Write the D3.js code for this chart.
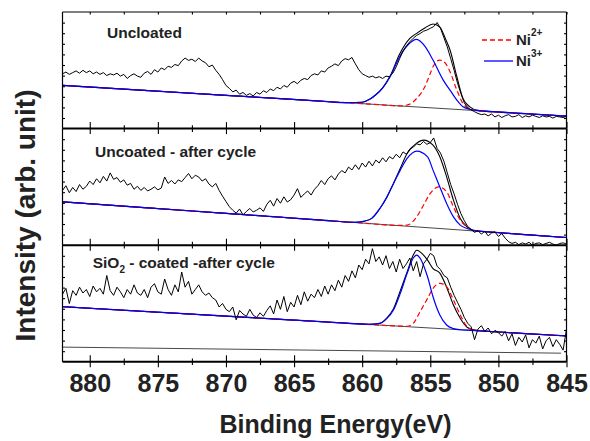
<!DOCTYPE html>
<html>
<head>
<meta charset="utf-8">
<script src="https://cdn.jsdelivr.net/npm/d3@7"></script>
<style>
  body { margin: 0; background: #fff; }
  svg text { font-family: "Liberation Sans", Arial, sans-serif; font-weight: bold; fill: #222; }
</style>
</head>
<body>
<div id="chart"></div>
<script>
// Ni 2p XPS spectra, raw counts sampled every 0.25 eV from 882 eV down to 845 eV
const energyStart = 882;
const energyStep = 0.25;

const rawUncoated = [
  47, 48.5, 46.5, 48, 49.5, 47.5, 50, 48, 49.5, 47,
  48.5, 46.5, 48, 45.5, 47, 46, 47.5, 45, 46.5, 43,
  45.5, 47, 45, 44, 47.5, 49, 46.5, 50.5, 48.5, 52,
  50.5, 53.5, 52.5, 55, 54, 58, 60.5, 58.5, 59.5, 57.5,
  60.5, 58, 56.5, 53, 54.5, 50, 46.5, 42, 37, 34.5,
  31.5, 33, 29.5, 31, 28.5, 30, 28, 31, 29.5, 32.5,
  31, 34, 32.5, 35.5, 34, 37, 35.5, 39, 40.5, 38.5,
  41.5, 43, 42, 45.5, 47, 46, 49.5, 48.5, 52, 53.5,
  55.5, 54, 58, 60, 59, 61, 55.5, 50.5, 47, 45.5,
  44, 45, 43.5, 44.5, 43, 45, 44.5, 47.5, 53, 60,
  66.5, 71, 74.5, 77.5, 80, 81.5, 83.5, 84.5, 86, 87.5,
  91, 86, 78, 70, 60, 50, 39, 30, 22, 18,
  16, 14.5, 13, 12, 12.5, 11, 12.5, 10, 11.5, 9.5,
  11, 12, 10, 10.5, 12, 9.5, 11, 10, 11.5, 10.5,
  9.5, 11, 10, 10.5, 9, 10.5, 10, 9.5, 10.5
];

const rawUncoatedCycled = [
  47, 51, 45, 49.5, 46, 52, 48, 50.5, 55, 52,
  57, 53.5, 59, 55, 62, 56.5, 58, 54, 56, 51.5,
  53, 48, 50.5, 47, 49.5, 46.5, 48, 50, 47.5, 49,
  58.5, 53, 55.5, 52.5, 56, 54.5, 58, 61.5, 57, 60,
  58.5, 55, 57, 52.5, 50, 53, 47, 42, 37.5, 33,
  30, 27.5, 31, 26, 29, 31.5, 28.5, 30, 32, 29,
  35, 38.5, 33.5, 40, 36, 41.5, 37, 39, 43, 48.5,
  41, 44, 46.5, 43, 48, 51, 55.5, 52, 57, 59.5,
  56, 61, 64, 62, 67, 64.5, 69, 65, 70.5, 67,
  72, 68, 73, 70.5, 75, 71.5, 76, 74, 78, 75,
  80, 78, 82.5, 84, 87, 86, 89, 86.5, 88, 92,
  83, 79, 72, 62, 52, 44, 35, 27, 21, 16,
  13.5, 11, 12.5, 9.5, 12, 8, 10.5, 11.5, 7.5, 10,
  6, 3, 1.5, 2.5, 0.5, 2, 1, 2.5, 0, 1.5,
  2, 0.5, 1.5, 2.5, 1, 0, 1.5, 2, 1
];

const rawSiO2Cycled = [
  58, 63, 50, 61, 57, 64, 59, 62, 56, 65, 60, 63,
  58, 74, 61, 57, 64, 60, 55, 62, 58, 66, 59, 57,
  62, 55, 64, 67, 60, 58, 71, 62, 57, 66, 60, 77,
  64, 69, 58, 62, 66, 60, 57, 59,
  55, 53, 47, 50, 45,
  43, 47, 36, 44, 41, 39, 45, 40, 38, 42, 39, 44,
  48, 41, 53, 45, 56, 43, 51, 47, 57, 49,
  60, 52, 58, 55, 62, 56, 65, 58,
  66, 61, 70, 64, 74, 69, 78, 72,
  83, 79, 88, 84, 97, 86, 90, 83,
  91, 80, 86, 77, 88, 80, 84, 89,
  78, 86, 73, 84, 88, 93, 91, 82,
  79, 74, 72, 64, 57, 51, 45, 38,
  33, 30, 19, 28, 31, 26, 29, 24,
  27, 25, 22, 26, 18, 24, 14, 21, 17, 23, 12, 19, 16, 22, 11, 18, 21, 13, 19, 15, 10, 28
];

// fitted curves, [binding energy, intensity]
const bgUncoated = [[882, 37.1], [845, 10.7]];
const ni3Uncoated = [[882, 37.1], [876, 32.8], [870, 28.5], [866, 25.7], [863, 23.5], [861, 22.2],
  [860, 22.6], [859.45, 25.1], [859, 29], [858.5, 34.8], [857.95, 44.5], [857.25, 61.6],
  [856.65, 71.7], [856, 76.6], [855.4, 70.8], [854.8, 58.8], [854.05, 41.6], [853.55, 33],
  [853.05, 24.5], [852.6, 18.7], [852.1, 16.6], [851.5, 15.4], [851, 15], [848, 12.8], [845, 10.7]];
const ni2Uncoated = [[882, 37.1], [876, 32.8], [870, 28.5], [866, 25.7], [863, 23.5], [860, 21.4],
  [858.5, 20.3], [857.25, 19.45], [856.5, 21], [856, 25.9], [855.4, 35.9], [855.05, 45.9],
  [854.8, 53], [854.3, 58.8], [853.9, 56.2], [853.55, 48.8], [853.05, 33], [852.6, 21.6],
  [852.25, 17.6], [851.7, 15.5], [849, 13.5], [845, 10.7]];
const envUncoated = [[882, 37.1], [876, 32.8], [870, 28.5], [866, 25.7], [863, 23.5], [861, 22.2],
  [860, 22.6], [859.45, 25.1], [859, 29], [858.5, 35], [857.95, 45], [857.25, 64], [856.5, 77.4],
  [856, 81.7], [855.4, 86.3], [854.8, 89.7], [854.3, 87.1], [853.85, 76], [853.55, 67.4],
  [853.05, 44.5], [852.6, 25.9], [852.1, 18.7], [851.5, 15.6], [851, 15], [848, 12.8], [845, 10.7]];

const bgUncoatedCycled = [[882, 37.2], [845, 6.6]];
const ni3UncoatedCycled = [[882, 37.2], [876, 32.2], [870, 27.3], [866, 24], [863, 21.5],
  [860.5, 19.6], [859.9, 20.5], [859.3, 23], [858.7, 31.5], [858.2, 41], [857.7, 53],
  [857.2, 64.4], [856.7, 74.4], [856, 80.7], [855.2, 75.8], [854.8, 64.4], [854.3, 50],
  [853.8, 35.8], [853.3, 24.3], [852.8, 17.2], [852.3, 14.3], [851.6, 12.3], [851, 11.7],
  [848, 9.1], [845, 6.6]];
const ni2UncoatedCycled = [[882, 37.2], [876, 32.2], [870, 27.3], [866, 24], [863, 21.5],
  [860, 19], [857.5, 17], [856.7, 17.2], [856, 24.3], [855.5, 34.3], [855, 44.4], [854.4, 50],
  [853.8, 45.8], [853.3, 32.9], [852.8, 21.5], [852.3, 15.7], [851.7, 12.5], [849, 9.9], [845, 6.6]];
const envUncoatedCycled = [[882, 37.2], [876, 32.2], [870, 27.3], [866, 24], [863, 21.5],
  [860.5, 19.6], [859.9, 20.5], [859.3, 23], [858.7, 31.5], [858.2, 41], [857.7, 53], [857.2, 66],
  [856.7, 78.7], [856, 87.5], [855.5, 90.1], [854.8, 85.8], [854.3, 75.8], [853.8, 58.6],
  [853.3, 38.6], [852.8, 22.9], [852.3, 15.7], [851.8, 12.5], [851, 11.7], [848, 9.1], [845, 6.6]];

const bgSiO2Cycled = [[882, 47.3], [845, 22.2]];
const ni3SiO2Cycled = [[882, 47.3], [876, 43.2], [870, 39.2], [866, 36.4], [863, 34.4], [861, 33],
  [859.5, 32.2], [858.7, 33], [858.2, 37], [857.7, 44.4], [857.2, 58.7], [856.7, 75.8],
  [856.25, 89], [856, 91.5], [855.75, 89], [855.2, 72.9], [854.8, 55.8], [854.3, 40.2],
  [853.8, 31.6], [853.3, 28.5], [852.8, 27.5], [852, 27], [848, 24.2], [845, 22.2]];
const ni2SiO2Cycled = [[882, 47.3], [876, 43.2], [870, 39.2], [866, 36.4], [863, 34.4], [861, 33],
  [859, 31.7], [857.5, 30.7], [856.7, 30.5], [856.25, 33], [855.75, 43], [855.2, 54.4], [854.8, 63],
  [854.3, 67.3], [853.8, 64.4], [853.3, 53], [852.8, 40.2], [852.3, 30.2], [851.8, 27.2],
  [851, 26.4], [848, 24.2], [845, 22.2]];
const envSiO2Cycled = [[882, 47.3], [876, 43.2], [870, 39.2], [866, 36.4], [863, 34.4], [861, 33],
  [859.5, 32.2], [858.7, 33], [858.2, 37.5], [857.7, 45.6], [857.2, 61], [856.7, 77],
  [856.25, 91.5], [856, 95.7], [855.75, 94.3], [855.2, 87.2], [854.8, 80], [854.3, 76],
  [853.8, 64], [853.3, 48.7], [852.8, 37.3], [852.3, 29.6], [851.8, 27.4], [851, 26.4],
  [848, 24.2], [845, 22.2]];
const lowerLineSiO2 = [[882, 12.6], [845.4, 7.4]];

const panelLabels = ['Uncloated', 'Uncoated - after cycle', 'SiO2 - coated -after cycle'];
const majorTicks = [880, 875, 870, 865, 860, 855, 850, 845];
const minorTicks = [877.5, 872.5, 867.5, 862.5, 857.5, 852.5, 847.5];

const panels = [
  { raw: rawUncoated, bg: bgUncoated, ni3: ni3Uncoated, ni2: ni2Uncoated, env: envUncoated },
  { raw: rawUncoatedCycled, bg: bgUncoatedCycled, ni3: ni3UncoatedCycled, ni2: ni2UncoatedCycled, env: envUncoatedCycled },
  { raw: rawSiO2Cycled, bg: bgSiO2Cycled, ni3: ni3SiO2Cycled, ni2: ni2SiO2Cycled, env: envSiO2Cycled, extra: lowerLineSiO2 }
];

const width = 590;
const height = 441;
const left = 62.5, right = 566.5, top0 = 12, panelH = 116.6;

const svg = d3.select('#chart').append('svg')
    .attr('width', width)
    .attr('height', height);

const x = d3.scaleLinear().domain([882, 845]).range([left, right]);
const yTicks = d3.range(1, 11).map(k => k * 100 / 11);

panels.forEach((p, k) => {
    const top = top0 + k * panelH;
    const bottom = top + panelH;
    const y = d3.scaleLinear().domain([0, 100]).range([bottom, top]);
    const g = svg.append('g');

    const smooth = d3.line().x(d => x(d[0])).y(d => y(d[1])).curve(d3.curveMonotoneX);
    const straight = d3.line().x(d => x(d[0])).y(d => y(d[1]));

    // background
    g.append('path').datum(p.bg)
        .attr('d', straight)
        .attr('fill', 'none').attr('stroke', '#333').attr('stroke-width', 0.9);
    if (p.extra) {
        g.append('path').datum(p.extra)
            .attr('d', straight)
            .attr('fill', 'none').attr('stroke', '#333').attr('stroke-width', 0.9);
    }

    // envelope (sum of components)
    g.append('path').datum(p.env)
        .attr('d', smooth)
        .attr('fill', 'none').attr('stroke', '#000').attr('stroke-width', 1.1);

    // Ni2+ component
    g.append('path').datum(p.ni2)
        .attr('d', smooth)
        .attr('fill', 'none').attr('stroke', '#ff0000').attr('stroke-width', 1.2)
        .attr('stroke-dasharray', '5,3');

    // Ni3+ component
    g.append('path').datum(p.ni3)
        .attr('d', smooth)
        .attr('fill', 'none').attr('stroke', '#0000ff').attr('stroke-width', 1.2);

    // raw spectrum
    const rawPts = p.raw.map((v, i) => [energyStart - i * energyStep, v]);
    g.append('path').datum(rawPts)
        .attr('d', straight)
        .attr('fill', 'none').attr('stroke', '#000').attr('stroke-width', 1);

    // axes (ticks only, frame drawn after)
    const put = (axis, tx, ty) => {
        const a = g.append('g').attr('transform', 'translate(' + tx + ',' + ty + ')').call(axis);
        a.select('.domain').remove();
        a.selectAll('line').attr('stroke', '#000').attr('stroke-width', 1.1);
        return a;
    };
    put(d3.axisBottom(x).tickValues(majorTicks).tickSize(-6.5).tickFormat(''), 0, bottom);
    put(d3.axisBottom(x).tickValues(minorTicks).tickSize(-3.4).tickFormat(''), 0, bottom);
    put(d3.axisBottom(x).tickValues(minorTicks).tickSize(3.3).tickFormat(''), 0, bottom);
    put(d3.axisLeft(y).tickValues(yTicks).tickSize(-2.5).tickFormat(''), left, 0);
    put(d3.axisRight(y).tickValues(yTicks).tickSize(-2.5).tickFormat(''), right, 0);
    if (k === 0) {
        put(d3.axisTop(x).tickValues(majorTicks.concat(minorTicks)).tickSize(-2.5).tickFormat(''), 0, top);
    }
    if (k === panels.length - 1) {
        const lab = put(d3.axisBottom(x).tickValues(majorTicks).tickSize(5.5).tickPadding(7)
            .tickFormat(d3.format('d')), 0, bottom);
        lab.attr('font-size', 25).attr('font-family', null);
        lab.selectAll('text').attr('fill', '#222');
    } else {
        put(d3.axisBottom(x).tickValues(majorTicks).tickSize(5.5).tickFormat(''), 0, bottom);
    }

    // frame
    g.append('line').attr('x1', left).attr('x2', left).attr('y1', top).attr('y2', bottom)
        .attr('stroke', '#000').attr('stroke-width', 1.2);
    g.append('line').attr('x1', right).attr('x2', right).attr('y1', top).attr('y2', bottom)
        .attr('stroke', '#000').attr('stroke-width', 1.2);
    g.append('line').attr('x1', left).attr('x2', right).attr('y1', bottom).attr('y2', bottom)
        .attr('stroke', '#000').attr('stroke-width', 2);
    if (k === 0) {
        g.append('line').attr('x1', left).attr('x2', right).attr('y1', top).attr('y2', top)
            .attr('stroke', '#000').attr('stroke-width', 1.2);
    }
});

// panel labels
const labelPos = [[107, 37.7], [95, 157.3], [92.7, 268.3]];
panelLabels.forEach((t, k) => {
    const txt = svg.append('text')
        .attr('x', labelPos[k][0]).attr('y', labelPos[k][1])
        .attr('font-size', 15.5);
    if (t.startsWith('SiO2')) {
        txt.append('tspan').text('SiO');
        txt.append('tspan').attr('dy', 5).attr('font-size', 10).text('2');
        txt.append('tspan').attr('dy', -5).text(t.slice(4));
    } else {
        txt.text(t);
    }
});

// legend
const legend = [
    { name: 'Ni', sup: '2+', color: '#ff0000', dash: '5,3', x1: 482, x2: 512, y: 40 },
    { name: 'Ni', sup: '3+', color: '#0000ff', dash: null, x1: 484, x2: 513, y: 61 }
];
legend.forEach(d => {
    svg.append('line')
        .attr('x1', d.x1).attr('x2', d.x2).attr('y1', d.y).attr('y2', d.y)
        .attr('stroke', d.color).attr('stroke-width', 1.3)
        .attr('stroke-dasharray', d.dash);
    const t = svg.append('text').attr('x', 516).attr('y', d.y + 5).attr('font-size', 15);
    t.append('tspan').text(d.name);
    t.append('tspan').attr('dy', -9).attr('font-size', 10).text(d.sup);
});

// axis titles
svg.append('text')
    .attr('transform', 'translate(35,215.5) rotate(-90)')
    .attr('text-anchor', 'middle')
    .attr('font-size', 28)
    .text('Intensity (arb. unit)');

svg.append('text')
    .attr('x', 335.5).attr('y', 433)
    .attr('text-anchor', 'middle')
    .attr('font-size', 25)
    .text('Binding Energy(eV)');
</script>
</body>
</html>
